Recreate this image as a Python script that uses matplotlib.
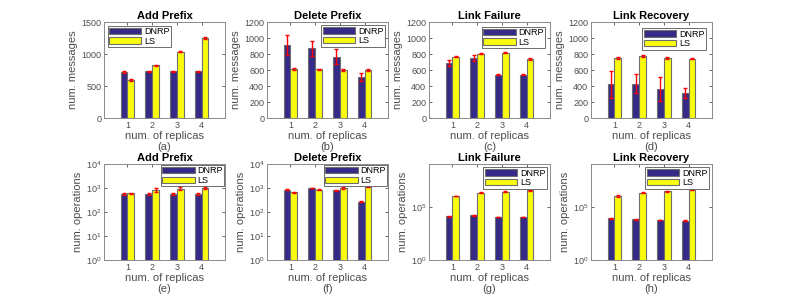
import numpy as np
import matplotlib.pyplot as plt

plt.rcParams['font.family'] = ['Liberation Sans', 'DejaVu Sans']

replicas = [1, 2, 3, 4]
series = ['DNRP', 'LS']
titles = ['Add Prefix', 'Delete Prefix', 'Link Failure', 'Link Recovery']
sub_top = ['(a)', '(b)', '(c)', '(d)']
sub_bot = ['(e)', '(f)', '(g)', '(h)']

# num. messages (top row), mean and error
msg_dnrp = [[725, 728, 730, 728], [915, 870, 765, 515],
            [690, 752, 540, 540], [420, 430, 365, 312]]
msg_dnrp_err = [[15, 12, 12, 12], [125, 95, 95, 50],
                [35, 35, 8, 8], [170, 120, 150, 65]]
msg_ls = [[600, 825, 1035, 1250], [612, 607, 600, 603],
          [768, 803, 815, 740], [752, 775, 750, 742]]
msg_ls_err = [[15, 8, 8, 8], [10, 8, 8, 15],
              [8, 8, 8, 10], [10, 10, 10, 8]]
msg_ylim = [1500, 1200, 1200, 1200]
msg_yticks = [[0, 500, 1000, 1500]] + [[0, 200, 400, 600, 800, 1000, 1200]] * 3

# num. operations (bottom row)
ops_dnrp = [[550, 550, 550, 550], [830, 1000, 800, 270],
            [1.2e4, 1.5e4, 1.05e4, 1.1e4], [7.8e3, 6.7e3, 5.5e3, 5.0e3]]
ops_dnrp_err = [[40, 40, 40, 40], [40, 40, 40, 15],
                [1.0e3, 1.2e3, 0.8e3, 0.9e3], [0.6e3, 0.5e3, 0.4e3, 0.4e3]]
ops_ls = [[600, 850, 950, 1000], [650, 850, 1000, 1150],
          [1.0e6, 2.0e6, 2.6e6, 3.4e6], [1.0e6, 2.1e6, 2.8e6, 4.0e6]]
ops_ls_err = [[40, 150, 120, 120], [30, 30, 50, 60],
              [1.0e5, 1.5e5, 2.0e5, 2.5e5], [2.5e5, 2.5e5, 3.0e5, 3.0e5]]
ops_ylim = [1e4, 1e4, 1e9, 1e9]
ops_yticks = [[1, 10, 100, 1e3, 1e4]] * 2 + [[1, 1e5]] * 2

dnrp_color = '#352a87'
ls_color = '#f9fb0e'
edge = '#6e6e6e'
gray_txt = '#4d4d4d'
err_color = '#ff0000'

W, H = 789, 299
fig = plt.figure(figsize=(W / 100, H / 100), dpi=100)

lefts = [104, 267, 429, 591]
width = 121
row_tops = [22, 164]
height = 96

# legend placement (loc, pad in font units) per panel
top_leg = [('upper left', 0.4), ('upper right', 0.35),
           ('upper right', 0.5), ('upper right', 0.7)]
bot_leg = [('upper right', 0.1), ('upper right', 0.1),
           ('upper right', 0.35), ('upper right', 0.35)]


def draw_panel(ax, dnrp, dnrp_err, ls, ls_err, title, sub, ylabel, leg):
    x = np.array(replicas)
    bw = 0.28
    ax.bar(x - bw / 2, dnrp, bw, color=dnrp_color, edgecolor=edge,
           linewidth=0.8, label=series[0], zorder=2)
    ax.bar(x + bw / 2, ls, bw, color=ls_color, edgecolor=edge,
           linewidth=0.8, label=series[1], zorder=2)
    for xs, m, e in [(x - bw / 2, dnrp, dnrp_err), (x + bw / 2, ls, ls_err)]:
        ax.errorbar(xs, m, yerr=e, fmt='none', ecolor=err_color,
                    elinewidth=1.0, capsize=1.5, capthick=1.0, zorder=4)
    ax.set_xlim(0.05, 4.95)
    ax.set_xticks(replicas)
    ax.set_title(title, fontsize=8, fontweight='bold', pad=2)
    ax.set_xlabel('num. of replicas\n' + sub, fontsize=8, color=gray_txt,
                  labelpad=1, linespacing=1.1)
    ax.set_ylabel(ylabel, fontsize=8, color=gray_txt, labelpad=2)
    ax.tick_params(direction='in', top=True, right=True, length=2.5,
                   width=0.6, labelsize=6.5, colors=gray_txt, pad=2)
    ax.tick_params(which='minor', length=0)
    for s in ax.spines.values():
        s.set_color('#8a8a8a')
        s.set_linewidth(0.7)
    lg = ax.legend(loc=leg[0], fontsize=6.5, frameon=True, fancybox=False,
                   handlelength=3.6, handleheight=0.7, borderpad=0.15,
                   labelspacing=0.08, handletextpad=0.3, borderaxespad=leg[1],
                   framealpha=1)
    lg.get_frame().set_edgecolor('#555555')
    lg.get_frame().set_linewidth(0.6)
    lg.set_zorder(5)


for i in range(4):
    ax = fig.add_axes([lefts[i] / W, 1 - (row_tops[0] + height) / H,
                       width / W, height / H])
    draw_panel(ax, msg_dnrp[i], msg_dnrp_err[i], msg_ls[i], msg_ls_err[i],
               titles[i], sub_top[i], 'num. messages', top_leg[i])
    ax.set_ylim(0, msg_ylim[i])
    ax.set_yticks(msg_yticks[i])

for i in range(4):
    ax = fig.add_axes([lefts[i] / W, 1 - (row_tops[1] + height) / H,
                       width / W, height / H])
    ax.set_yscale('log')
    draw_panel(ax, ops_dnrp[i], ops_dnrp_err[i], ops_ls[i], ops_ls_err[i],
               titles[i], sub_bot[i], 'num. operations', bot_leg[i])
    ax.set_ylim(1, ops_ylim[i])
    ax.set_yticks(ops_yticks[i])

fig.savefig('out.png', dpi=100)
